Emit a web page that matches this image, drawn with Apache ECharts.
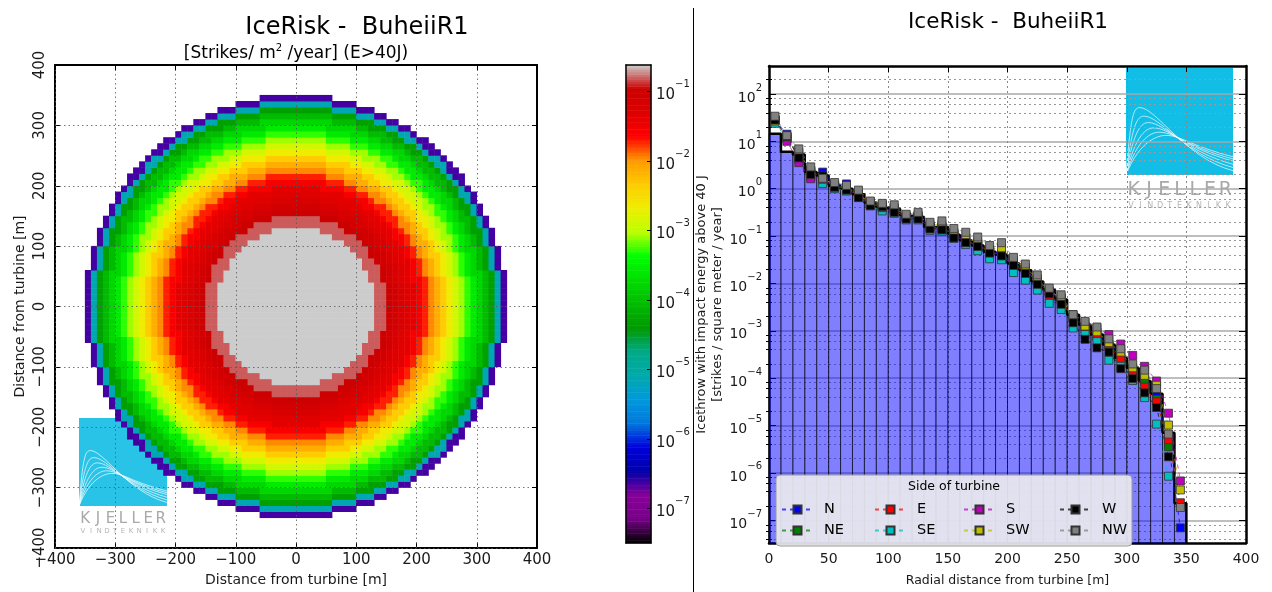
<!DOCTYPE html>
<html>
<head>
<meta charset="utf-8">
<script src="https://cdn.jsdelivr.net/npm/echarts@6/dist/echarts.min.js"></script>
<style>
  html, body { margin: 0; padding: 0; background: #fff; }
  #chart { width: 1272px; height: 592px; }
</style>
</head>
<body>
<div id="chart"></div>
<script>
(function() {
  var FONT = 'DejaVu Sans';
  var INK = '#1a1a1a';

  // --- data (log10 of strikes / m2 / year) ---
  // radial bins, start of each 10 m bin
  var binStart = [0, 10, 20, 30, 40, 50, 60, 70, 80, 90, 100, 110, 120, 130, 140, 150, 160, 170, 180, 190,
                  200, 210, 220, 230, 240, 250, 260, 270, 280, 290, 300, 310, 320, 330, 340];
  var binWidth = 10;
  // all sides together (blue histogram / black step line)
  var stepLog = [1.16, 0.78, 0.72, 0.35, 0.28, 0.06, 0.00, -0.12, -0.29, -0.40, -0.43, -0.57, -0.60, -0.81, -0.81,
                 -0.97, -1.09, -1.20, -1.33, -1.39, -1.58, -1.72, -1.96, -2.14, -2.34, -2.66, -2.87, -3.08, -3.29,
                 -3.57, -3.78, -4.06, -4.33, -5.15, -6.64];
  // per side of turbine, at the bin centres
  var logN  = [1.45, 1.15, 0.70, 0.38, 0.35, 0.08, 0.10, -0.12, -0.30, -0.36, -0.42, -0.58, -0.57, -0.79, -0.80, -0.95, -1.08, -1.18, -1.30, -1.38, -1.56, -1.70, -1.94, -2.16, -2.34, -2.70, -2.90, -3.08, -3.28, -3.50, -3.82, -4.00, -4.35, -5.40, -7.16];
  var logNE = [1.46, 1.08, 0.68, 0.35, 0.25, 0.06, 0.02, -0.13, -0.31, -0.38, -0.45, -0.60, -0.60, -0.80, -0.82, -0.96, -1.10, -1.19, -1.32, -1.38, -1.58, -1.72, -1.96, -2.20, -2.36, -2.72, -2.92, -3.10, -3.30, -3.55, -3.86, -4.05, -4.45, -5.45, null];
  var logE  = [1.44, 1.07, 0.66, 0.33, 0.24, 0.05, 0.00, -0.14, -0.32, -0.40, -0.46, -0.60, -0.61, -0.81, -0.83, -0.97, -1.10, -1.20, -1.33, -1.40, -1.63, -1.74, -1.97, -2.30, -2.38, -2.74, -2.96, -3.13, -3.33, -3.59, -3.91, -4.19, -4.50, -5.30, -6.63];
  var logSE = [1.38, 1.05, 0.62, 0.25, 0.11, 0.00, -0.05, -0.18, -0.36, -0.47, -0.52, -0.66, -0.66, -0.88, -0.90, -1.05, -1.18, -1.31, -1.48, -1.50, -1.77, -1.93, -2.14, -2.42, -2.55, -2.94, -3.08, -3.23, -3.62, -3.75, -4.05, -4.41, -4.97, -6.07, null];
  var logS  = [1.47, 1.00, 0.55, 0.21, 0.20, 0.04, 0.00, -0.15, -0.33, -0.40, -0.47, -0.60, -0.62, -0.82, -0.84, -0.98, -1.12, -1.20, -1.34, -1.40, -1.60, -1.73, -1.95, -2.18, -2.32, -2.66, -2.82, -2.95, -3.08, -3.28, -3.52, -3.75, -4.06, -4.74, -6.17];
  var logSW = [1.43, 1.10, 0.76, 0.38, 0.22, 0.08, 0.04, -0.12, -0.30, -0.34, -0.40, -0.57, -0.56, -0.76, -0.75, -0.92, -1.05, -1.12, -1.28, -1.25, -1.52, -1.66, -1.90, -2.16, -2.30, -2.72, -2.90, -3.02, -3.25, -3.45, -3.78, -3.94, -4.15, -4.99, -6.36];
  var logW  = [1.45, 1.10, 0.65, 0.30, 0.27, 0.03, -0.03, -0.19, -0.36, -0.38, -0.50, -0.64, -0.64, -0.85, -0.87, -1.04, -1.14, -1.22, -1.36, -1.42, -1.62, -1.79, -2.02, -2.22, -2.44, -2.83, -3.18, -3.36, -3.45, -3.80, -4.01, -4.31, -4.62, -5.66, null];
  var logNW = [1.53, 1.12, 0.84, 0.46, 0.22, 0.13, 0.07, -0.03, -0.26, -0.31, -0.34, -0.54, -0.50, -0.71, -0.68, -0.84, -0.92, -1.02, -1.20, -1.14, -1.45, -1.59, -1.82, -2.10, -2.24, -2.66, -2.80, -2.92, -3.17, -3.38, -3.70, -3.83, -4.22, -5.18, -6.73];

  var sides = ['N', 'NE', 'E', 'SE', 'S', 'SW', 'W', 'NW'];
  var sideLogs = [logN, logNE, logE, logSE, logS, logSW, logW, logNW];
  var sideColors = ['#0000ff', '#008000', '#ff0000', '#00bfbf', '#bf00bf', '#bfbf00', '#000000', '#808080'];

  // colour scale (nipy_spectral) and its limits
  var nipySpectral = ['#000000', '#770088', '#880099', '#0000aa', '#0000dd', '#0077dd', '#0099dd', '#00aaaa',
                      '#00aa88', '#009900', '#00bb00', '#00dd00', '#00ff00', '#bbff00', '#eeee00', '#ffcc00',
                      '#ff9900', '#ff0000', '#dd0000', '#cc0000', '#cccccc'];
  var cbMin = -7.5, cbMax = -0.62;
  var cbDecades = [-7, -6, -5, -4, -3, -2, -1];
  var yDecades = [-7, -6, -5, -4, -3, -2, -1, 0, 1, 2];
  var minorSteps = [2, 4, 6, 8];
  var yMin = -7.48, yMax = 2.59;

  // --- derived tables ---
  var cellCentres = [];
  for (var c = -395; c <= 395; c += binWidth) cellCentres.push(c);
  var mapCells = [];
  cellCentres.forEach(function(x, i) {
    cellCentres.forEach(function(y, j) {
      var bin = Math.floor(Math.sqrt(x * x + y * y) / binWidth);
      if (bin < stepLog.length) {
        mapCells.push([i, j, Math.max(cbMin, Math.min(cbMax, stepLog[bin]))]);
      }
    });
  });

  var cbSteps = 200, cbCats = [], cbCells = [];
  for (var k = 0; k < cbSteps; k++) {
    cbCats.push(k);
    cbCells.push([0, k, cbMin + (k + 0.5) * (cbMax - cbMin) / cbSteps]);
  }

  var minorVals = [];
  for (var n = -8; n <= 2; n++) {
    minorSteps.forEach(function(m) {
      var v = n + Math.log10(m);
      if (v > yMin && v < yMax) minorVals.push(v);
    });
  }

  var barData = binStart.map(function(r, i) { return [r, r + binWidth, stepLog[i]]; });
  var stepData = binStart.map(function(r, i) { return [r, stepLog[i]]; });
  stepData.push([binStart[binStart.length - 1] + binWidth, stepLog[stepLog.length - 1]]);
  stepData.push([binStart[binStart.length - 1] + binWidth, yMin]);

  function minus(v) { return v < 0 ? '\u2212' + (-v) : '' + v; }
  function pow10(v) { return '{b|10}{s|' + minus(v) + '}'; }
  function supRich(size) {
    return {
      b: { fontFamily: FONT, fontSize: size, color: INK, lineHeight: size + 8, verticalAlign: 'bottom' },
      s: { fontFamily: FONT, fontSize: Math.round(size * 0.68), color: INK, lineHeight: size + 8, verticalAlign: 'top' }
    };
  }

  var frame = { show: true, onZero: false, lineStyle: { color: '#000', width: 2 } };
  var noLabel = { show: false };
  var mapGrid = { show: true, lineStyle: { color: '#555', type: [1.5, 3], width: 0.8 } };

  function logo(x, y, s, opacity) {
    var f = s / 100;
    var curves = [[13, 37, 96], [17, 45, 93], [21, 51, 90], [26, 56, 87], [31, 60, 85], [37, 63, 83]];
    var kids = [{ type: 'rect', shape: { x: 0, y: 0, width: s, height: s }, style: { fill: '#12bde6', opacity: opacity } }];
    curves.forEach(function(p) {
      var line = { stroke: 'rgba(255,255,255,0.85)', lineWidth: 0.8, fill: null };
      kids.push({ type: 'bezierCurve', shape: { x1: 0, y1: s, cpx1: p[0] * 0.35 * f, cpy1: (p[1] + (100 - p[1]) * 0.1) * f,
        cpx2: (p[0] - 6) * f, cpy2: p[1] * f, x2: p[0] * f, y2: p[1] * f }, style: line });
      kids.push({ type: 'bezierCurve', shape: { x1: p[0] * f, y1: p[1] * f, cpx1: (p[0] + 15) * f, cpy1: p[1] * f,
        cpx2: 55 * f, cpy2: (p[2] - 12) * f, x2: s, y2: p[2] * f }, style: line });
    });
    'KJELLER'.split('').forEach(function(ch, i) {
      kids.push({ type: 'text', x: (i + 0.5) * s / 7, y: s * 1.145, style: { text: ch, fill: '#a9a9a9',
        font: Math.round(s * 0.175) + 'px ' + FONT, align: 'center', verticalAlign: 'middle' } });
    });
    'VINDTEKNIKK'.split('').forEach(function(ch, i) {
      kids.push({ type: 'text', x: (i + 0.5) * s / 11, y: s * 1.285, style: { text: ch, fill: '#b5b5b5',
        font: Math.round(s * 0.075) + 'px ' + FONT, align: 'center', verticalAlign: 'middle' } });
    });
    return { type: 'group', x: x, y: y, z: 3, children: kids };
  }

  var sideSeries = sides.map(function(name, i) {
    var pts = [];
    sideLogs[i].forEach(function(v, j) { if (v !== null) pts.push([binStart[j] + binWidth / 2, v]); });
    return {
      name: name, type: 'line', xAxisIndex: 6, yAxisIndex: 6, data: pts,
      symbol: 'rect', symbolSize: 8, showSymbol: true, z: 4,
      lineStyle: { color: sideColors[i], width: 1, type: [4, 4], opacity: 0.7 },
      itemStyle: { color: sideColors[i], borderColor: '#333', borderWidth: 0.8 }
    };
  });

  function legendCol(names, left) {
    return {
      data: names, orient: 'vertical', left: left, top: 502, padding: 0, itemGap: 6,
      itemWidth: 31, itemHeight: 10, selectedMode: false,
      textStyle: { fontFamily: FONT, fontSize: 14.5, color: '#000', padding: [0, 0, 0, 6] }
    };
  }

  var chart = echarts.init(document.getElementById('chart'), null, { renderer: 'canvas' });
  chart.setOption({
    animation: false,
    backgroundColor: '#fff',
    title: [
      { text: 'IceRisk -  BuheiiR1', left: 357, top: 16, textAlign: 'center', padding: 0,
        textStyle: { fontFamily: FONT, fontSize: 24, fontWeight: 'normal', color: '#000' } },
      { text: '[Strikes/ m{s|2} /year] (E>40J)', left: 296, top: 43, textAlign: 'center', padding: 0,
        textStyle: { fontFamily: FONT, fontSize: 17, fontWeight: 'normal', color: '#000',
          rich: { s: { fontFamily: FONT, fontSize: 10, verticalAlign: 'top', lineHeight: 22, color: '#000' } } } },
      { text: 'IceRisk -  BuheiiR1', left: 1008, top: 11, textAlign: 'center', padding: 0,
        textStyle: { fontFamily: FONT, fontSize: 21.5, fontWeight: 'normal', color: '#000' } }
    ],
    grid: [
      { left: 55, top: 65, width: 482, height: 483 },
      { left: 626, top: 65, width: 25, height: 478 },
      { left: 769, top: 66, width: 477, height: 480 }
    ],
    visualMap: {
      type: 'continuous', show: false, min: cbMin, max: cbMax, dimension: 2, seriesIndex: [0, 1],
      inRange: { color: nipySpectral }
    },
    xAxis: [
      { gridIndex: 0, type: 'category', data: cellCentres, show: false, position: 'bottom' },
      { gridIndex: 0, type: 'value', min: -400, max: 400, interval: 100, position: 'bottom', axisLine: frame,
        axisTick: { inside: true, length: 5, lineStyle: { color: '#000' } },
        axisLabel: { fontFamily: FONT, fontSize: 15, color: INK, margin: 5, formatter: minus },
        splitLine: { show: false },
        name: 'Distance from turbine [m]', nameLocation: 'middle', nameGap: 25,
        nameTextStyle: { fontFamily: FONT, fontSize: 14, color: INK } },
      { gridIndex: 0, type: 'value', min: -400, max: 400, interval: 100, position: 'top', axisLine: frame, z: 5,
        axisTick: { inside: true, length: 5, lineStyle: { color: '#000' } }, axisLabel: noLabel,
        splitLine: mapGrid },
      { gridIndex: 1, type: 'category', data: [0], show: false, position: 'bottom' },
      { gridIndex: 1, type: 'value', min: 0, max: 1, position: 'bottom', z: 5,
        axisLine: { show: true, onZero: false, lineStyle: { color: '#000', width: 1.5 } },
        axisTick: { show: false }, axisLabel: noLabel, splitLine: { show: false } },
      { gridIndex: 1, type: 'value', min: 0, max: 1, position: 'top', z: 5,
        axisLine: { show: true, onZero: false, lineStyle: { color: '#000', width: 1.5 } },
        axisTick: { show: false }, axisLabel: noLabel, splitLine: { show: false } },
      { gridIndex: 2, type: 'value', min: 0, max: 400, interval: 50, position: 'bottom',
        axisLine: { show: true, onZero: false, lineStyle: { color: '#000', width: 2.5 } },
        axisTick: { inside: true, length: 6, lineStyle: { color: '#000' } },
        axisLabel: { fontFamily: FONT, fontSize: 14, color: INK, margin: 9 },
        splitLine: { show: true, lineStyle: { color: '#888', type: [2, 3], width: 1 } },
        name: 'Radial distance from turbine [m]', nameLocation: 'middle', nameGap: 31,
        nameTextStyle: { fontFamily: FONT, fontSize: 12.5, color: INK } },
      { gridIndex: 2, type: 'value', min: 0, max: 400, interval: 50, position: 'top',
        axisLine: { show: true, onZero: false, lineStyle: { color: '#000', width: 2.5 } },
        axisTick: { inside: true, length: 6, lineStyle: { color: '#000' } }, axisLabel: noLabel,
        splitLine: { show: false } }
    ],
    yAxis: [
      { gridIndex: 0, type: 'category', data: cellCentres, show: false, position: 'left' },
      { gridIndex: 0, type: 'value', min: -400, max: 400, interval: 100, position: 'left', axisLine: frame,
        axisTick: { inside: true, length: 5, lineStyle: { color: '#000' } },
        axisLabel: { fontFamily: FONT, fontSize: 15, color: INK, margin: 7, rotate: 90, formatter: minus },
        splitLine: { show: false },
        name: 'Distance from turbine [m]', nameLocation: 'middle', nameGap: 28,
        nameTextStyle: { fontFamily: FONT, fontSize: 14, color: INK } },
      { gridIndex: 0, type: 'value', min: -400, max: 400, interval: 100, position: 'right', axisLine: frame, z: 5,
        axisTick: { inside: true, length: 5, lineStyle: { color: '#000' } }, axisLabel: noLabel,
        splitLine: mapGrid },
      { gridIndex: 1, type: 'category', data: cbCats, show: false, position: 'left' },
      { gridIndex: 1, type: 'value', min: cbMin, max: cbMax, position: 'right', z: 5,
        axisLine: { show: true, onZero: false, lineStyle: { color: '#000', width: 1.5 } },
        axisTick: { inside: true, length: 4, customValues: cbDecades, lineStyle: { color: '#000' } },
        axisLabel: { customValues: cbDecades, margin: 5, formatter: pow10, rich: supRich(15) },
        splitLine: { show: false } },
      { gridIndex: 1, type: 'value', min: cbMin, max: cbMax, position: 'left', z: 5,
        axisLine: { show: true, onZero: false, lineStyle: { color: '#000', width: 1.5 } },
        axisTick: { show: false }, axisLabel: noLabel, splitLine: { show: false } },
      { gridIndex: 2, type: 'value', min: yMin, max: yMax, position: 'left',
        axisLine: { show: true, onZero: false, lineStyle: { color: '#000', width: 2.5 } },
        axisTick: { inside: true, length: 7, customValues: yDecades, lineStyle: { color: '#000' } },
        axisLabel: { customValues: yDecades, margin: 7, formatter: pow10, rich: supRich(14) },
        splitLine: { show: true, lineStyle: { color: '#a8a8a8', width: 1.5 } },
        name: 'Icethrow with impact energy above 40 J\n[strikes / square meter / year]',
        nameLocation: 'middle', nameGap: 37,
        nameTextStyle: { fontFamily: FONT, fontSize: 13, color: INK, lineHeight: 16 } },
      { gridIndex: 2, type: 'value', min: yMin, max: yMax, position: 'right',
        axisLine: { show: true, onZero: false, lineStyle: { color: '#000', width: 2.5 } },
        axisTick: { inside: true, length: 7, customValues: yDecades, lineStyle: { color: '#000' } },
        axisLabel: noLabel, splitLine: { show: false } },
      { gridIndex: 2, type: 'value', min: yMin, max: yMax, position: 'left',
        axisLine: { show: false },
        axisTick: { inside: true, length: 3, customValues: minorVals, lineStyle: { color: '#000' } },
        axisLabel: noLabel,
        splitLine: { show: true, lineStyle: { color: '#999', type: [2, 3], width: 1 } } },
      { gridIndex: 2, type: 'value', min: yMin, max: yMax, position: 'right',
        axisLine: { show: false },
        axisTick: { inside: true, length: 3, customValues: minorVals, lineStyle: { color: '#000' } },
        axisLabel: noLabel, splitLine: { show: false } }
    ],
    legend: [
      legendCol(['N', 'NE'], 781),
      legendCol(['E', 'SE'], 874),
      legendCol(['S', 'SW'], 963),
      legendCol(['W', 'NW'], 1059)
    ],
    graphic: [
      { type: 'line', shape: { x1: 693.5, y1: 8, x2: 693.5, y2: 592 }, style: { stroke: '#000', lineWidth: 1 } },
      { type: 'rect', z: 3, shape: { x: 776, y: 475, width: 356, height: 71, r: 4 },
        style: { fill: 'rgba(232,232,238,0.93)', stroke: '#9a9a9a', lineWidth: 1 } },
      { type: 'text', z: 4, x: 954, y: 487, style: { text: 'Side of turbine', fill: '#000',
        font: '12.5px ' + FONT, align: 'center', verticalAlign: 'middle' } },
      logo(79, 418, 88, 0.9),
      logo(1126, 68, 107, 1)
    ],
    series: [
      { type: 'heatmap', xAxisIndex: 0, yAxisIndex: 0, data: mapCells, progressive: 0, itemStyle: { borderWidth: 0 } },
      { type: 'heatmap', xAxisIndex: 3, yAxisIndex: 3, data: cbCells, progressive: 0, itemStyle: { borderWidth: 0 } },
      { type: 'custom', xAxisIndex: 6, yAxisIndex: 6, data: barData, z: 2,
        encode: { x: [0, 1], y: 2 },
        renderItem: function(params, api) {
          var p0 = api.coord([api.value(0), api.value(2)]);
          var p1 = api.coord([api.value(1), yMin]);
          return {
            type: 'rect',
            shape: { x: p0[0], y: p0[1], width: p1[0] - p0[0], height: p1[1] - p0[1] },
            style: { fill: 'rgba(0,0,255,0.5)', stroke: 'rgba(0,0,0,0.55)', lineWidth: 1 }
          };
        } },
      { type: 'line', xAxisIndex: 6, yAxisIndex: 6, data: stepData, step: 'end', symbol: 'none', z: 3,
        lineStyle: { color: '#000', width: 2.5 } }
    ].concat(sideSeries)
  });
  window.addEventListener('resize', function() { chart.resize(); });
})();
</script>
</body>
</html>
